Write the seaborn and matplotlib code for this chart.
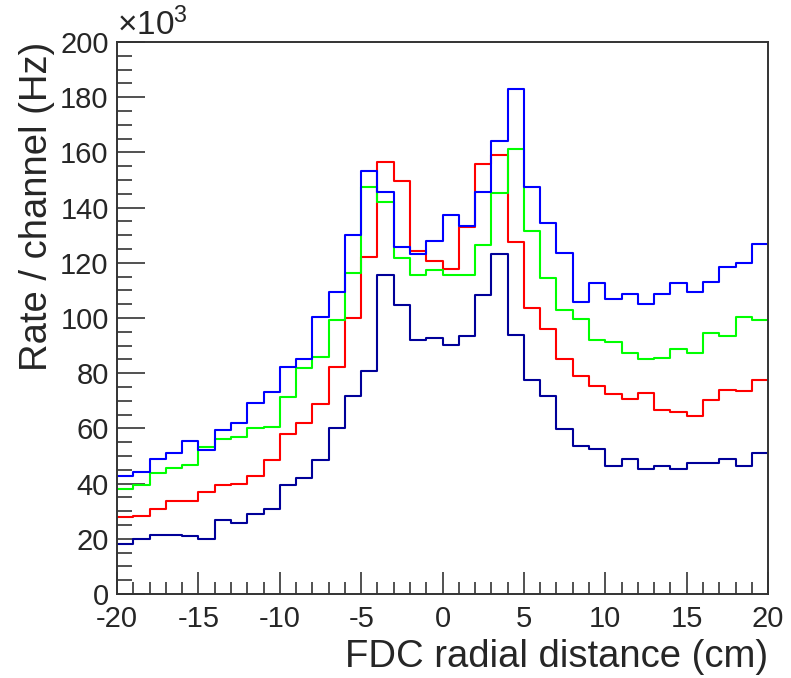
import numpy as np
import pandas as pd
import matplotlib
matplotlib.use('Agg')
import matplotlib.pyplot as plt
import seaborn as sns
from matplotlib.ticker import MultipleLocator

# bin edges: 40 bins of 1 cm from -20 to 20
edges = np.arange(-20, 21, 1)
centers = edges[:-1] + 0.5

# rates in units of 10^3 Hz
rate_blue = [42.8, 44.3, 49.0, 51.2, 55.3, 52.2, 59.5, 61.8, 69.1, 73.3,
             82.4, 85.1, 100.5, 109.3, 130.2, 153.4, 145.8, 125.8, 123.2, 127.9,
             137.4, 133.3, 145.8, 164.1, 182.9, 147.6, 134.3, 123.7, 105.7, 112.6,
             106.8, 108.8, 105.2, 108.8, 112.6, 109.4, 113.0, 118.5, 119.9, 126.8]
rate_green = [37.9, 39.4, 43.7, 45.8, 46.9, 53.1, 56.3, 56.9, 60.0, 60.6,
              71.3, 81.8, 86.0, 99.3, 116.2, 147.6, 142.1, 121.6, 115.7, 117.3,
              115.7, 115.7, 126.3, 145.4, 161.2, 131.6, 114.6, 103.0, 99.8, 91.9,
              91.4, 87.2, 85.0, 85.5, 88.7, 87.2, 94.6, 93.5, 100.4, 99.3]
rate_red = [27.9, 28.4, 30.6, 33.6, 33.6, 36.8, 39.4, 40.0, 42.6, 48.6,
            58.0, 61.8, 68.7, 82.4, 99.9, 122.0, 156.4, 149.6, 124.2, 120.5,
            117.9, 132.9, 155.9, 159.1, 127.4, 103.5, 96.1, 85.0, 79.1, 75.5,
            72.3, 70.8, 72.8, 66.5, 65.9, 64.4, 70.3, 73.9, 73.4, 77.5]
rate_navy = [18.2, 19.9, 21.5, 21.5, 21.0, 19.9, 26.8, 25.7, 28.9, 30.6,
             39.5, 42.1, 48.6, 60.1, 71.9, 80.8, 115.7, 104.7, 92.0, 92.9,
             90.3, 93.5, 108.3, 123.2, 94.0, 77.7, 71.8, 59.6, 53.7, 52.7,
             46.5, 49.0, 45.2, 46.4, 45.2, 47.3, 47.3, 48.9, 46.4, 51.1]

series = ['navy', 'red', 'green', 'blue']
values = [rate_navy, rate_red, rate_green, rate_blue]
colors = {'navy': '#000099', 'red': '#ff0000', 'green': '#00ff00', 'blue': '#0000ff'}

df = pd.concat([pd.DataFrame({'x': centers, 'rate': v, 'set': s})
                for s, v in zip(series, values)], ignore_index=True)

sns.set_style('white')
plt.rcParams['font.family'] = ['Liberation Sans', 'DejaVu Sans']
plt.rcParams['mathtext.fontset'] = 'custom'
plt.rcParams['mathtext.rm'] = 'Liberation Sans'
plt.rcParams['mathtext.it'] = 'Liberation Sans'
plt.rcParams['axes.unicode_minus'] = False

fig = plt.figure(figsize=(7.91, 6.78), dpi=100)
ax = fig.add_axes([0.148, 0.124, 0.823, 0.814])

for s in series:
    sns.histplot(data=df[df['set'] == s], x='x', weights='rate',
                 binwidth=1, binrange=(-20, 20),
                 element='step', fill=False, color=colors[s], linewidth=1.5, ax=ax)

ax.set_xlim(-20, 20)
ax.set_ylim(0, 200)
ax.xaxis.set_major_locator(MultipleLocator(5))
ax.xaxis.set_minor_locator(MultipleLocator(1))
ax.yaxis.set_major_locator(MultipleLocator(20))
ax.yaxis.set_minor_locator(MultipleLocator(5))
ax.tick_params(which='both', direction='in', left=True, bottom=True,
               top=False, right=False,
               width=1.2, color='#333333', labelsize=21)
ax.tick_params(axis='y', which='major', length=20, pad=6)
ax.tick_params(axis='y', which='minor', length=11)
ax.tick_params(axis='x', which='major', length=16, pad=8)
ax.tick_params(axis='x', which='minor', length=9)
for sp in ax.spines.values():
    sp.set_color('#333333')
    sp.set_linewidth(1.4)

ax.set_xlabel('FDC radial distance (cm)', fontsize=27.5, loc='right', labelpad=4)
ax.set_ylabel('Rate / channel (Hz)', fontsize=27.5, loc='top', labelpad=4)
ax.text(0.0, 1.0, r'$\times10^{3}$', transform=ax.transAxes, fontsize=24,
        ha='left', va='bottom')

fig.savefig('out.png', dpi=100)
